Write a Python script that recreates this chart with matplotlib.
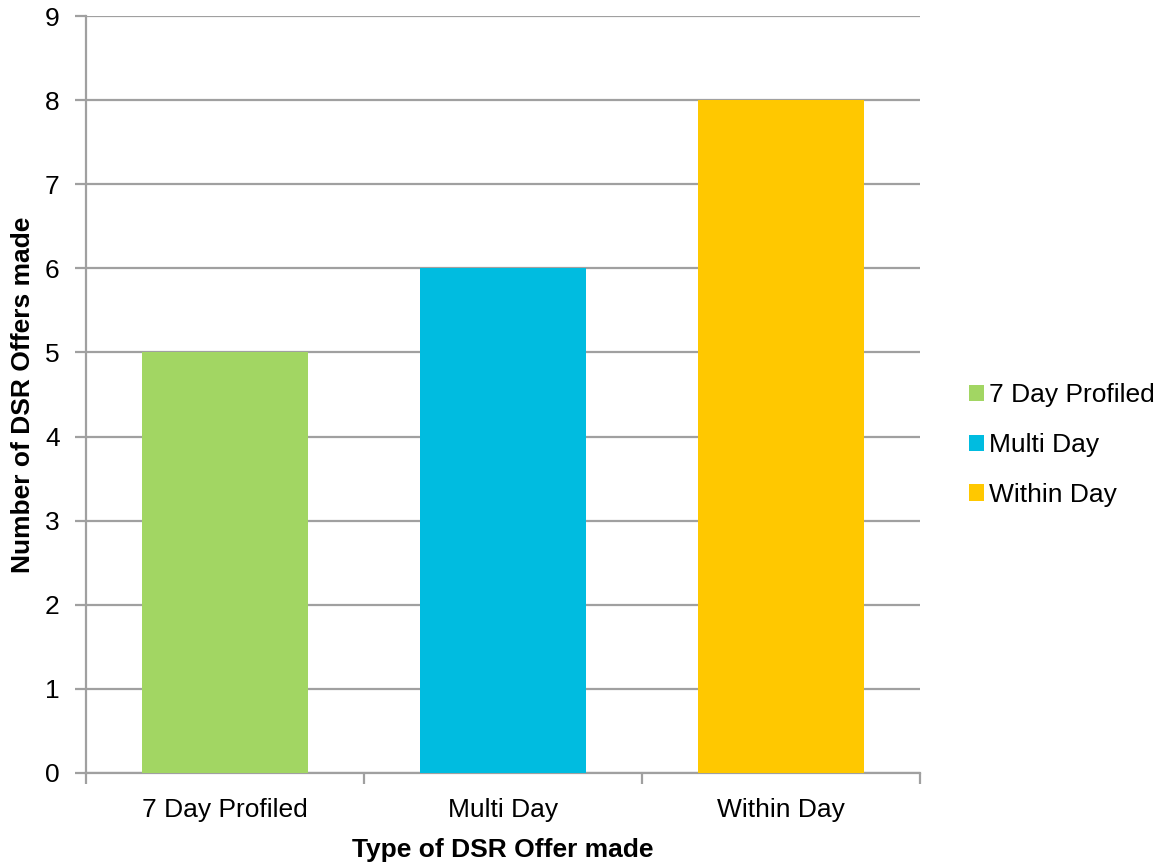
import matplotlib
matplotlib.use("Agg")
import matplotlib.pyplot as plt
from matplotlib.patches import Patch

categories = ["7 Day Profiled", "Multi Day", "Within Day"]
values = [5, 6, 8]
colors = ["#A2D663", "#00BCE0", "#FFC800"]
yticks = list(range(0, 10))

plt.rcParams['font.family'] = ['Liberation Sans', 'DejaVu Sans']
FS = 19
GRAY = "#A0A0A0"

fig = plt.figure(figsize=(11.57, 8.63), dpi=100)
ax = fig.add_axes([86/1157, 1-773/863, (920-86)/1157, (773-16)/863])

x = list(range(len(categories)))
ax.bar(x, values, width=0.6, color=colors, zorder=3)
ax.set_xlim(-0.5, len(categories)-0.5)
ax.set_ylim(0, 9)
ax.set_yticks(yticks)
ax.set_yticklabels([str(v) for v in yticks])
ax.yaxis.grid(True, color=GRAY, linewidth=1.6, zorder=0)
ax.set_axisbelow(True)

ax.set_xticks(x)
ax.set_xticklabels(categories)
ax.set_xticks([-0.5 + i for i in range(len(categories)+1)], minor=True)
ax.tick_params(axis='x', which='major', length=0, pad=18, labelsize=FS)
ax.tick_params(axis='x', which='minor', length=8, width=1.6, color=GRAY, direction='out')
ax.tick_params(axis='y', length=8, width=1.6, color=GRAY, pad=11, labelsize=FS)

for s in ['top', 'right']:
    ax.spines[s].set_visible(False)
for s in ['left', 'bottom']:
    ax.spines[s].set_color(GRAY)
    ax.spines[s].set_linewidth(1.6)

ax.set_xlabel("Type of DSR Offer made", fontsize=FS, fontweight='bold')
ax.set_ylabel("Number of DSR Offers made", fontsize=FS, fontweight='bold')
ax.xaxis.set_label_coords(0.5, -(850-773)/757, transform=ax.transAxes)
ax.xaxis.label.set_va('center')
ax.yaxis.set_label_coords(-(86-23)/834, 0.5, transform=ax.transAxes)
ax.yaxis.label.set_va('center')

handles = [Patch(facecolor=c, edgecolor='none', label=l) for c, l in zip(colors, categories)]
fig.legend(handles=handles, loc='center left', bbox_to_anchor=(969/1157, 1-445/863),
           frameon=False, fontsize=FS, handlelength=0.57, handleheight=0.57,
           handletextpad=0.2, labelspacing=0.98, borderpad=0, borderaxespad=0)

fig.savefig("out.png", dpi=100)
